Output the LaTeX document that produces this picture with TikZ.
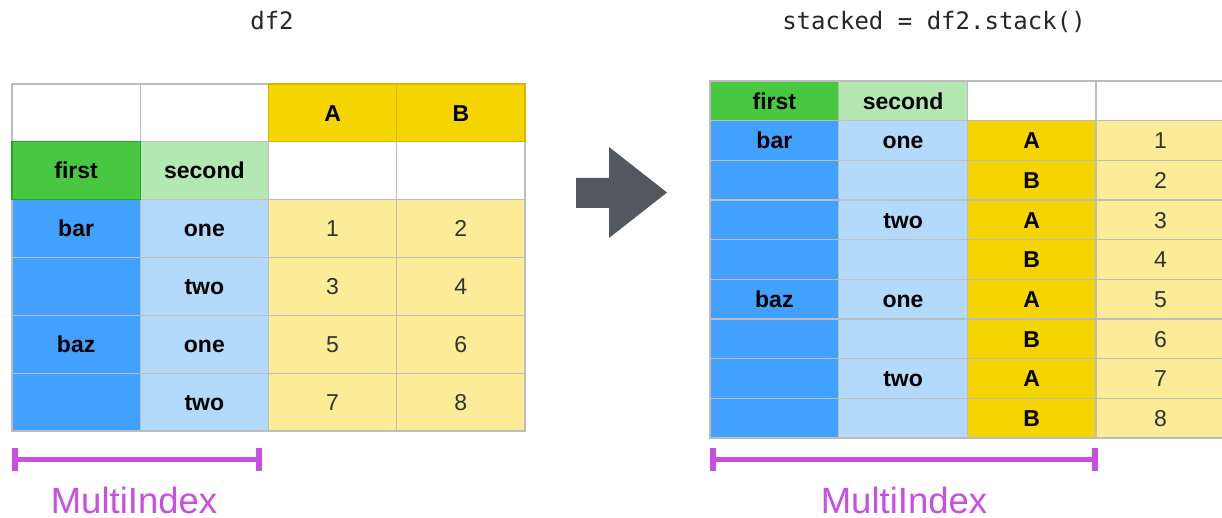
\documentclass[tikz,border=0pt]{standalone}
\usepackage{fontspec}
\setmainfont{Liberation Sans}
\newfontfamily\monofont{DejaVu Sans Mono}
\definecolor{hdrYellow}{HTML}{F5D500}
\definecolor{cellYellow}{HTML}{FCEC98}
\definecolor{idxGreen}{HTML}{48C840}
\definecolor{idxLGreen}{HTML}{B4E8B2}
\definecolor{idxBlue}{HTML}{42A1FF}
\definecolor{idxLBlue}{HTML}{B3D9FB}
\definecolor{gridGray}{HTML}{BDBDBD}
\definecolor{goldBorder}{HTML}{D9B400}
\definecolor{greenBorder}{HTML}{2FA02A}
\definecolor{miPurple}{HTML}{C850E0}
\definecolor{arrowGray}{HTML}{53575E}
\definecolor{numGray}{HTML}{333333}
\tikzset{
  cell/.style={draw=gridGray, line width=1.3pt, inner sep=0pt, outer sep=0pt, rectangle, text height=16.5pt, text depth=0pt},
  lsize/.style={minimum width=128.25pt, minimum height=57.83pt},
  rsize/.style={minimum width=128.7pt, minimum height=39.67pt},
  bold/.style={font=\bfseries\fontsize{23}{27}\selectfont, text=black},
  num/.style={font=\fontsize{23}{27}\selectfont, text=numGray},
  title/.style={font=\monofont\fontsize{24}{28}\selectfont, text=black!85, inner sep=0pt, text height=17pt, text depth=0pt},
  milabel/.style={font=\fontsize{36.5}{40}\selectfont, text=miPurple, inner sep=0pt, text height=26pt, text depth=0pt},
  bracket/.style={draw=miPurple, line width=5pt},
  bracketend/.style={draw=miPurple, line width=6pt},
}
\newcommand\LC[6][]{\node[cell,lsize,fill=#5,#1] (L-#2) at ({12+128.25*(#3+0.5)},{84+57.83*(#4+0.5)}) {#6};}
\newcommand\RC[6][]{\node[cell,rsize,fill=#5,#1] (R-#2) at ({710+128.7*(#3+0.5)},{81+39.67*(#4+0.5)}) {#6};}
\begin{document}
\begin{tikzpicture}[x=1pt,y=-1pt]
\useasboundingbox (0,0) rectangle (1222,518);
\clip (0,0) rectangle (1222,518);
\fill[white] (0,0) rectangle (1222,518);

% titles
\node[title] (t1) at (272,21) {df2};
\node[title] (t2) at (934,21) {stacked = df2.stack()};

% ---------------- left table ----------------
\LC{e00}{0}{0}{white}{}
\LC{e01}{1}{0}{white}{}
\LC{e12}{2}{1}{white}{}
\LC{e13}{3}{1}{white}{}
\LC[bold]{second}{1}{1}{idxLGreen}{second}
% index rows
\LC[bold]{bar}{0}{2}{idxBlue}{bar}
\LC{b3}{0}{3}{idxBlue}{}
\LC[bold]{baz}{0}{4}{idxBlue}{baz}
\LC{b5}{0}{5}{idxBlue}{}
\LC[bold]{one1}{1}{2}{idxLBlue}{one}
\LC[bold]{two1}{1}{3}{idxLBlue}{two}
\LC[bold]{one2}{1}{4}{idxLBlue}{one}
\LC[bold]{two2}{1}{5}{idxLBlue}{two}
\LC[num]{v1}{2}{2}{cellYellow}{1}
\LC[num]{v2}{3}{2}{cellYellow}{2}
\LC[num]{v3}{2}{3}{cellYellow}{3}
\LC[num]{v4}{3}{3}{cellYellow}{4}
\LC[num]{v5}{2}{4}{cellYellow}{5}
\LC[num]{v6}{3}{4}{cellYellow}{6}
\LC[num]{v7}{2}{5}{cellYellow}{7}
\LC[num]{v8}{3}{5}{cellYellow}{8}
% coloured-border cells on top
\LC[draw=goldBorder,bold]{A}{2}{0}{hdrYellow}{A}
\LC[draw=goldBorder,bold]{B}{3}{0}{hdrYellow}{B}
\LC[draw=greenBorder,bold]{first}{0}{1}{idxGreen}{first}

% ---------------- arrow ----------------
\fill[arrowGray] (576,178) -- (609,178) -- (609,147) -- (667,192.5) -- (609,238) -- (609,208) -- (576,208) -- cycle;

% ---------------- right table ----------------
\RC[bold]{first}{0}{0}{idxGreen}{first}
\RC[bold]{second}{1}{0}{idxLGreen}{second}
\RC{e02}{2}{0}{white}{}
\RC{e03}{3}{0}{white}{}
% level 0
\RC[bold]{bar}{0}{1}{idxBlue}{bar}
\RC{b2}{0}{2}{idxBlue}{}
\RC{b3}{0}{3}{idxBlue}{}
\RC{b4}{0}{4}{idxBlue}{}
\RC[bold]{baz}{0}{5}{idxBlue}{baz}
\RC{b6}{0}{6}{idxBlue}{}
\RC{b7}{0}{7}{idxBlue}{}
\RC{b8}{0}{8}{idxBlue}{}
% level 1
\RC[bold]{one1}{1}{1}{idxLBlue}{one}
\RC{s2}{1}{2}{idxLBlue}{}
\RC[bold]{two1}{1}{3}{idxLBlue}{two}
\RC{s4}{1}{4}{idxLBlue}{}
\RC[bold]{one2}{1}{5}{idxLBlue}{one}
\RC{s6}{1}{6}{idxLBlue}{}
\RC[bold]{two2}{1}{7}{idxLBlue}{two}
\RC{s8}{1}{8}{idxLBlue}{}
% level 2
\RC[bold]{A1}{2}{1}{hdrYellow}{A}
\RC[bold]{B1}{2}{2}{hdrYellow}{B}
\RC[bold]{A2}{2}{3}{hdrYellow}{A}
\RC[bold]{B2}{2}{4}{hdrYellow}{B}
\RC[bold]{A3}{2}{5}{hdrYellow}{A}
\RC[bold]{B3}{2}{6}{hdrYellow}{B}
\RC[bold]{A4}{2}{7}{hdrYellow}{A}
\RC[bold]{B4}{2}{8}{hdrYellow}{B}
% values
\RC[num]{v1}{3}{1}{cellYellow}{1}
\RC[num]{v2}{3}{2}{cellYellow}{2}
\RC[num]{v3}{3}{3}{cellYellow}{3}
\RC[num]{v4}{3}{4}{cellYellow}{4}
\RC[num]{v5}{3}{5}{cellYellow}{5}
\RC[num]{v6}{3}{6}{cellYellow}{6}
\RC[num]{v7}{3}{7}{cellYellow}{7}
\RC[num]{v8}{3}{8}{cellYellow}{8}

% ---------------- MultiIndex brackets ----------------
\coordinate (lbA) at (15,459);
\coordinate (lbB) at (259,459);
\draw[bracket] (lbA) -- (lbB);
\draw[bracketend] ([yshift=-11.5pt]lbA) -- ([yshift=11.5pt]lbA);
\draw[bracketend] ([yshift=-11.5pt]lbB) -- ([yshift=11.5pt]lbB);
\node[milabel] (lmi) at (134,500) {MultiIndex};

\coordinate (rbA) at (713,459);
\coordinate (rbB) at (1095,459);
\draw[bracket] (rbA) -- (rbB);
\draw[bracketend] ([yshift=-11.5pt]rbA) -- ([yshift=11.5pt]rbA);
\draw[bracketend] ([yshift=-11.5pt]rbB) -- ([yshift=11.5pt]rbB);
\node[milabel] (rmi) at (904,500) {MultiIndex};
\end{tikzpicture}
\end{document}
